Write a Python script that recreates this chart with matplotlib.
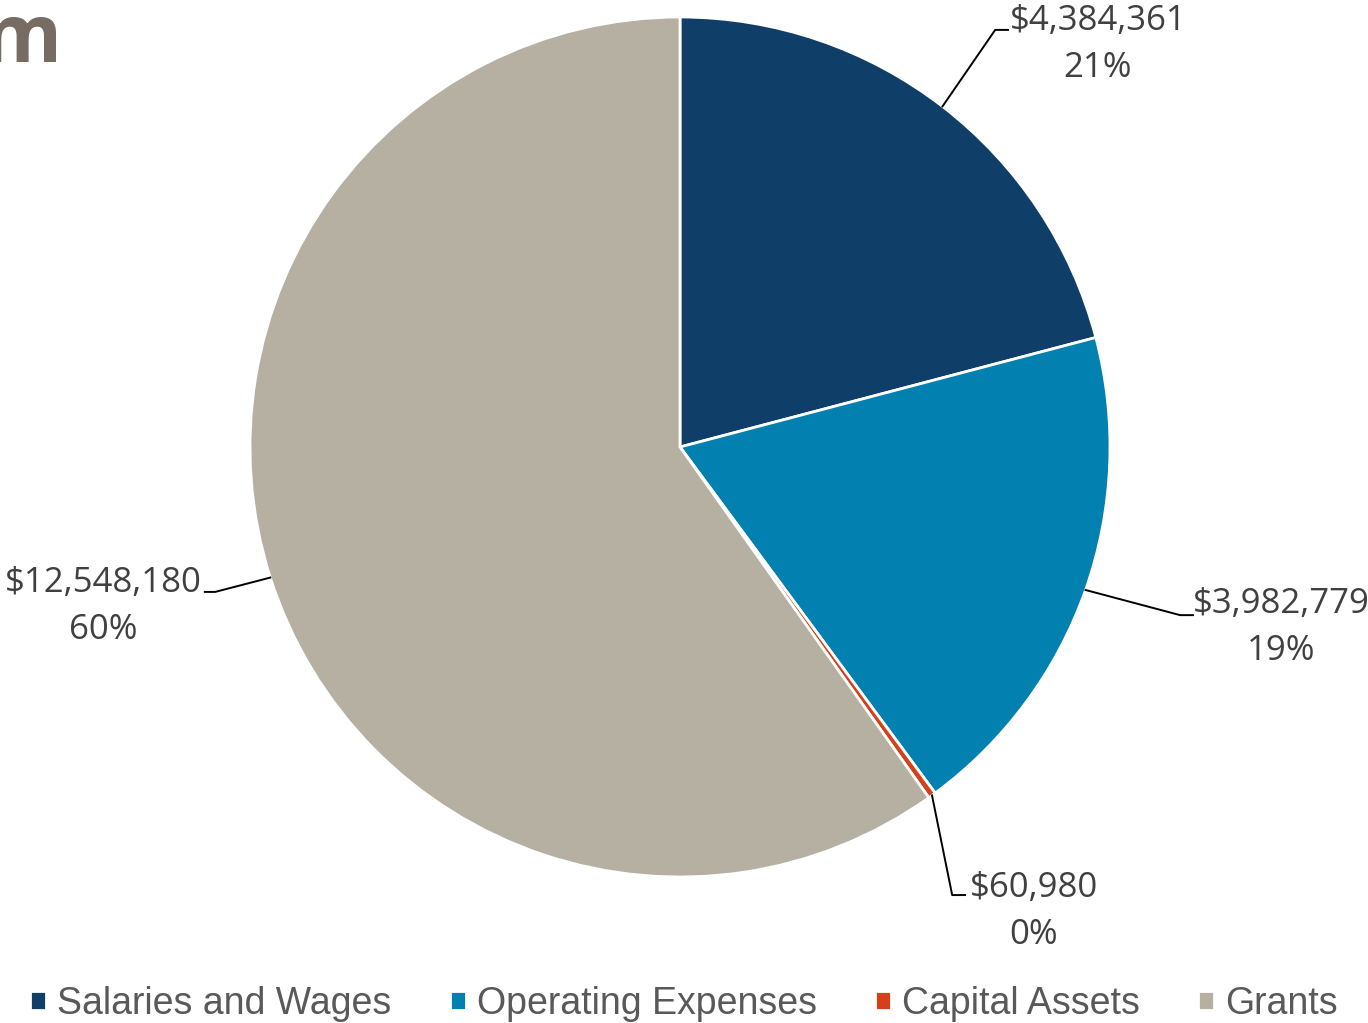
import numpy as np
import matplotlib.pyplot as plt

categories = ['Salaries and Wages', 'Operating Expenses', 'Capital Assets', 'Grants']
amounts = [4384361, 3982779, 60980, 12548180]
colors = ['#0f3f69', '#0280b0', '#d4401a', '#b6b0a2']

# label text centres and elbow points of the leader lines (axes data units, radius = 1)
label_pos = [(0.972, 0.936), (1.398, -0.420), (0.823, -1.080), (-1.342, -0.372)]
elbow_pos = [(0.733, 0.970), (1.163, -0.391), (0.633, -1.042), (-1.081, -0.337)]
elbow_end = [0.763, 1.193, 0.663, -1.105]

fig = plt.figure(figsize=(13.68, 10.23), dpi=100)
W, H = 1368, 1023
cx, cy, r = 680, 447, 430
ax = fig.add_axes([(cx - r) / W, (H - cy - r) / H, 2 * r / W, 2 * r / H])

wedges, _ = ax.pie(amounts, colors=colors, startangle=90, counterclock=False,
                   radius=1, wedgeprops=dict(edgecolor='white', linewidth=2))
ax.set_xlim(-1, 1)
ax.set_ylim(-1, 1)
ax.axis('off')

total = sum(amounts)
for w, amt, (tx, ty), (ex, ey), endx in zip(wedges, amounts, label_pos, elbow_pos, elbow_end):
    mid = np.deg2rad((w.theta1 + w.theta2) / 2)
    px, py = np.cos(mid), np.sin(mid)
    ax.plot([px, ex, endx], [py, ey, ey], color='black', lw=1.4, clip_on=False)
    pct = round(100 * amt / total)
    ax.text(tx, ty, f'${amt:,}\n{pct}%', ha='center', va='center',
            multialignment='center', fontsize=25, color='#404040',
            family=['Open Sans', 'DejaVu Sans'], linespacing=1.5)

fig.text(62 / W, 1 - 62 / H, 'm', ha='right', va='baseline', fontsize=58,
         fontweight='bold', color='#766c64', family=['Open Sans', 'DejaVu Sans'])

leg = fig.legend(wedges, categories, loc='lower center', ncol=4, frameon=False,
                 bbox_to_anchor=(0.5, -0.032), handlelength=0.42, handleheight=0.42,
                 handletextpad=0.3, columnspacing=1.55,
                 prop=dict(family='Liberation Sans', size=27))
for t in leg.get_texts():
    t.set_color('#595959')

fig.savefig('out.png', dpi=100)
